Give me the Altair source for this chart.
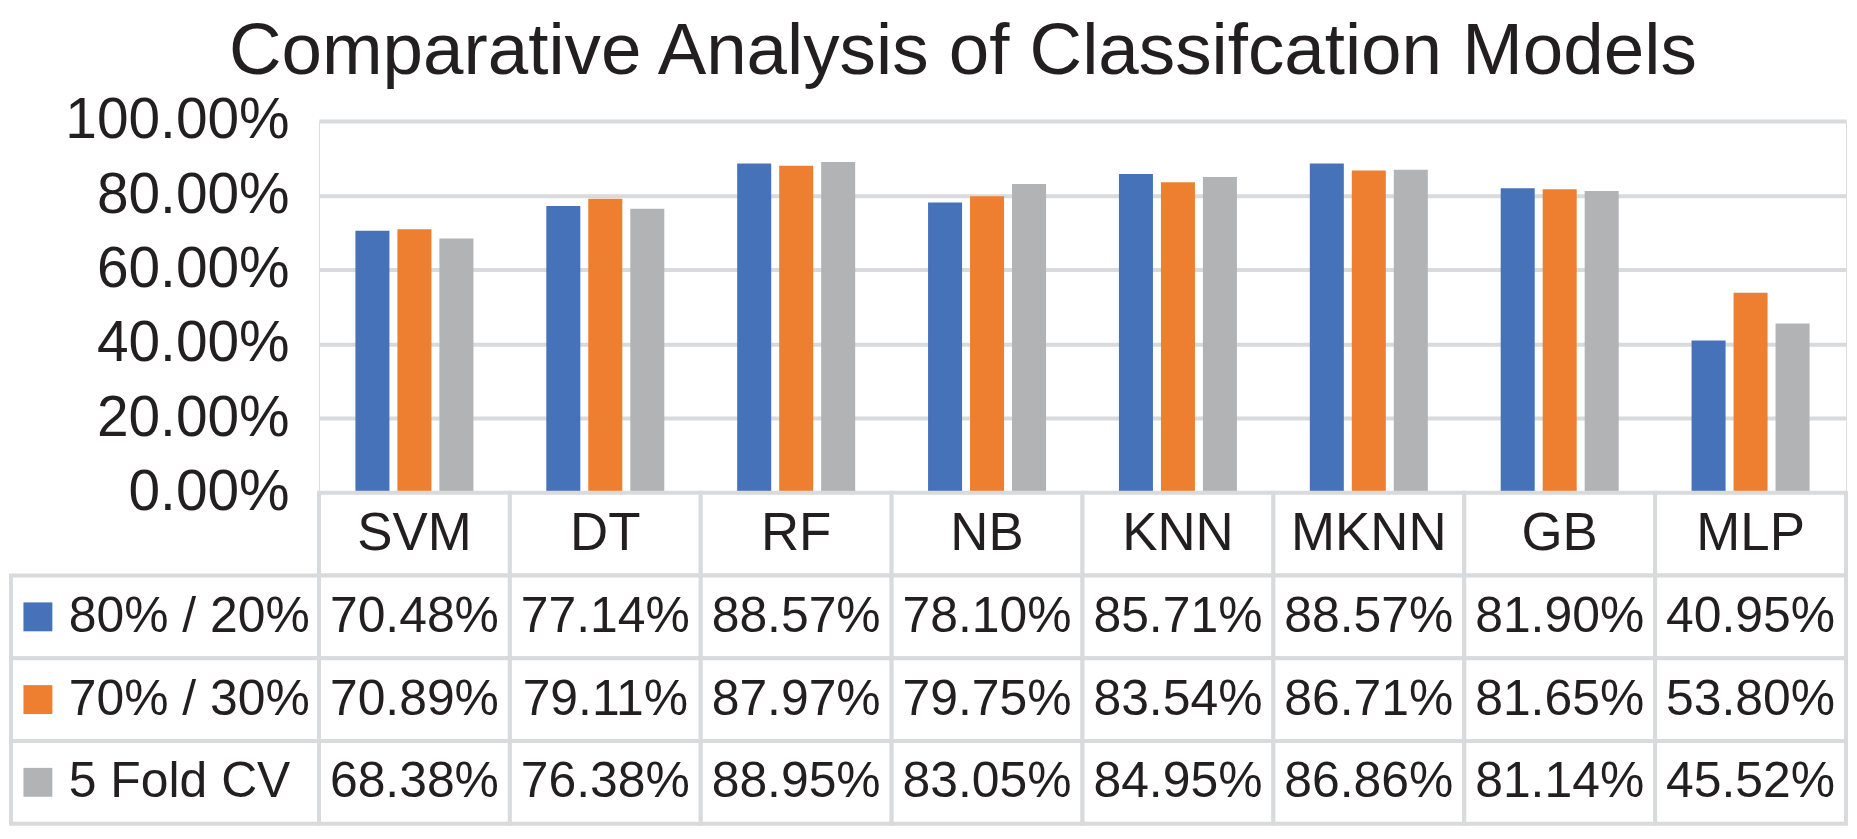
import altair as alt
import pandas as pd

models = ["SVM", "DT", "RF", "NB", "KNN", "MKNN", "GB", "MLP"]
series = ["80% / 20%", "70% / 30%", "5 Fold CV"]
split_80_20 = [0.7048, 0.7714, 0.8857, 0.7810, 0.8571, 0.8857, 0.8190, 0.4095]
split_70_30 = [0.7089, 0.7911, 0.8797, 0.7975, 0.8354, 0.8671, 0.8165, 0.5380]
fold5_cv = [0.6838, 0.7638, 0.8895, 0.8305, 0.8495, 0.8686, 0.8114, 0.4552]
colors = ["#4672b9", "#ee7f31", "#b2b3b5"]
y_ticks = [0, 0.2, 0.4, 0.6, 0.8, 1.0]
header_key = "Model"

FONT = "Liberation Sans"
INK = "#231f20"
LINE = "#d9dadb"

rows = []
for s, vals in zip(series, [split_80_20, split_70_30, fold5_cv]):
    for m, v in zip(models, vals):
        rows.append({"model": m, "series": s, "value": v})
df = pd.DataFrame(rows)

header_df = pd.DataFrame({"model": models, "series": [header_key] * len(models)})
cells_df = pd.concat([header_df, df[["model", "series"]]], ignore_index=True)
legend_df = pd.DataFrame({"series": series})

PLOT_W = 1532
PLOT_H = 373
TABLE_H = 332
row_order = [header_key] + series

color_scale = alt.Scale(domain=series, range=colors)

bars = alt.Chart(df).mark_bar().encode(
    x=alt.X("model:N", sort=models, axis=None,
            scale=alt.Scale(paddingInner=0.34, paddingOuter=0.17)),
    xOffset=alt.XOffset("series:N", sort=series,
                        scale=alt.Scale(paddingInner=0.19, paddingOuter=0.095)),
    y=alt.Y("value:Q", scale=alt.Scale(domain=[0, 1]),
            axis=alt.Axis(values=y_ticks, format=".2%", title=None,
                          domain=False, ticks=False, tickSize=0,
                          labelFont=FONT, labelFontSize=57, labelColor=INK,
                          labelPadding=30, labelLimit=0, grid=True,
                          gridColor=LINE, gridWidth=4)),
    color=alt.Color("series:N", scale=color_scale, legend=None),
).properties(
    width=PLOT_W, height=PLOT_H,
    title=alt.Title("Comparative Analysis of Classifcation Models",
                    font=FONT, fontSize=73, fontWeight="normal", color=INK,
                    anchor="middle", frame="group", dx=-120, offset=3),
)

x_tab = alt.X("model:N", sort=models, axis=None,
              scale=alt.Scale(paddingInner=0, paddingOuter=0))
y_tab = alt.Y("series:N", sort=row_order, axis=None,
              scale=alt.Scale(domain=row_order, paddingInner=0, paddingOuter=0))

cells = alt.Chart(cells_df).mark_rect(fill="white", stroke=LINE, strokeWidth=4).encode(
    x=x_tab, y=y_tab)

legend_cells = alt.Chart(legend_df).mark_rect(fill="white", stroke=LINE, strokeWidth=4).encode(
    x=alt.value(-309), x2=alt.value(0), y=y_tab)

swatches = alt.Chart(legend_df).mark_square(size=841, opacity=1, filled=True).encode(
    x=alt.value(-282), y=y_tab,
    color=alt.Color("series:N", scale=color_scale, legend=None))

legend_text = alt.Chart(legend_df).mark_text(
    align="left", baseline="middle", font=FONT, fontSize=50, color=INK).encode(
    x=alt.value(-251), y=y_tab, text="series:N")

header_text = alt.Chart(header_df).mark_text(
    align="center", baseline="middle", font=FONT, fontSize=53, color=INK).encode(
    x=x_tab, y=y_tab, text="model:N")

value_text = alt.Chart(df).mark_text(
    align="center", baseline="middle", font=FONT, fontSize=50, color=INK).encode(
    x=x_tab, y=y_tab, text=alt.Text("value:Q", format=".2%"))

table = alt.layer(cells, legend_cells, swatches, legend_text, header_text, value_text).properties(
    width=PLOT_W, height=TABLE_H)

chart = alt.vconcat(bars, table, spacing=0, bounds="flush").resolve_scale(
    x="independent", y="independent", color="independent"
).properties(
    padding={"left": 0, "top": 6, "right": 0, "bottom": 0}
).configure_view(stroke=None).configure(background="white")

chart.save("out.html", embed_options={"renderer": "svg", "actions": False})
